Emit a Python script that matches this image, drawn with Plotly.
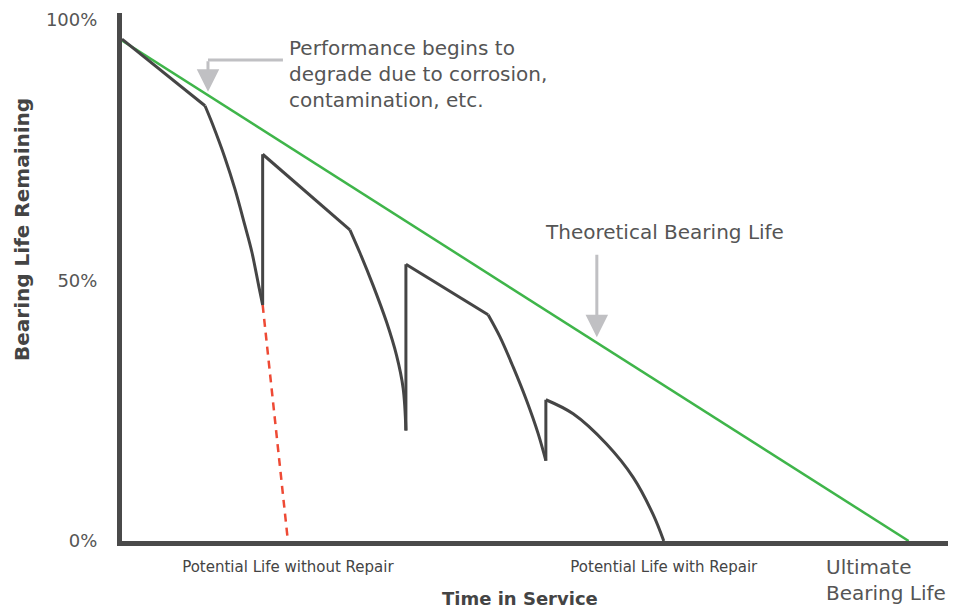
import plotly.graph_objects as go

# ---- data (time in service: 0..100 = ultimate bearing life; life remaining in %) ----
theory_x = [0, 100]
theory_y = [96, 0]

# actual bearing life path: straight wear segments, accelerated-degradation curves, repairs
seg1_x = [0, 10.55]
seg1_y = [96.3, 83.5]
curve1_x = [10.55, 11.5, 13.09, 14.36, 15.63, 16.5, 17.4, 17.88]
curve1_y = [83.5, 80.0, 73.5, 67.5, 60.5, 55.5, 48.8, 45.3]
repair1_x = [17.88, 17.88]
repair1_y = [45.3, 74.2]
seg2_x = [17.88, 28.97]
seg2_y = [74.2, 59.7]
curve2_x = [28.97, 30.24, 31.93, 33.63, 34.90, 35.74, 36.09]
curve2_y = [59.7, 55.3, 49.0, 42.0, 35.6, 29.3, 21.2]
repair2_x = [36.09, 36.09]
repair2_y = [21.2, 53.1]
seg3_x = [36.09, 46.54]
seg3_y = [53.1, 43.4]
curve3_x = [46.54, 48.03, 49.72, 51.42, 52.90, 53.88]
curve3_y = [43.4, 39.2, 33.4, 27.0, 20.6, 15.4]
repair3_x = [53.88, 53.88]
repair3_y = [15.4, 27.1]
curve4_x = [53.88, 57.35, 61.59, 64.98, 67.51, 68.87]
curve4_y = [27.1, 24.4, 18.6, 12.2, 5.1, 0]

no_repair_x = [17.88, 21.09]
no_repair_y = [45.3, 0]

y_tickvals = [0, 50, 100]
y_ticktext = ["0%", "50%", "100%"]
x_ticktext = ["Potential Life without Repair", "Potential Life with Repair"]

FONT = "DejaVu Sans"
TXT = "#555555"
DARK = "#454545"
GREEN = "#3fb54a"
ARROW = "#c0c0c3"

fig = go.Figure()

fig.add_trace(go.Scatter(x=theory_x, y=theory_y, mode="lines",
                         line=dict(color=GREEN, width=2.5), hoverinfo="skip"))

fig.add_trace(go.Scatter(x=no_repair_x, y=no_repair_y, mode="lines",
                         line=dict(color="#ee4a35", width=2.5, dash="8px,6px"), hoverinfo="skip"))

segments = [
    (seg1_x, seg1_y, "linear"), (curve1_x, curve1_y, "spline"), (repair1_x, repair1_y, "linear"),
    (seg2_x, seg2_y, "linear"), (curve2_x, curve2_y, "spline"), (repair2_x, repair2_y, "linear"),
    (seg3_x, seg3_y, "linear"), (curve3_x, curve3_y, "spline"), (repair3_x, repair3_y, "linear"),
    (curve4_x, curve4_y, "spline"),
]
for sx, sy, shp in segments:
    fig.add_trace(go.Scatter(x=sx, y=sy, mode="lines",
                             line=dict(color=DARK, width=3, shape=shp, smoothing=1.0),
                             hoverinfo="skip"))

# annotation: Performance begins to degrade (elbow arrow)
fig.add_shape(type="line", x0=10.93, x1=20.46, y0=92.3, y1=92.3,
              line=dict(color=ARROW, width=3))
fig.add_annotation(x=10.93, y=86.2, ax=0, ay=-32, showarrow=True, text="",
                   arrowhead=2, arrowsize=1.5, arrowwidth=3, arrowcolor=ARROW)
fig.add_annotation(x=21.0, y=89.6, xanchor="left", yanchor="middle", align="left",
                   showarrow=False,
                   text="Performance begins to<br>degrade due to corrosion,<br>contamination, etc.",
                   font=dict(family=FONT, size=20, color=TXT))

# annotation: Theoretical Bearing Life
fig.add_annotation(x=60.36, y=39.1, ax=0, ay=-84, showarrow=True, text="",
                   arrowhead=2, arrowsize=1.5, arrowwidth=3, arrowcolor=ARROW)
fig.add_annotation(x=69.0, y=59.2, showarrow=False, text="Theoretical Bearing Life",
                   font=dict(family=FONT, size=20, color=TXT))

# Ultimate bearing life label
fig.add_annotation(x=theory_x[-1], y=0, xref="x", yref="y", xanchor="left", yanchor="top",
                   xshift=-85, yshift=-12, align="left", showarrow=False,
                   text="Ultimate<br>Bearing Life",
                   font=dict(family=FONT, size=20, color=TXT))

# axis titles
fig.add_annotation(xref="paper", yref="paper", x=0, y=0.589, xshift=-114,
                   textangle=-90, showarrow=False,
                   text="<b>Bearing Life Remaining</b>",
                   font=dict(family=FONT, size=20, color="#444444"))
fig.add_annotation(xref="paper", yref="paper", x=0.482, y=-0.108, yanchor="middle",
                   showarrow=False, text="<b>Time in Service</b>",
                   font=dict(family=FONT, size=18, color="#444444"))

fig.update_layout(
    width=961, height=608,
    margin=dict(l=114, r=21, t=5, b=75, autoexpand=False),
    plot_bgcolor="white", paper_bgcolor="white",
    showlegend=False,
    xaxis=dict(range=[0, 105], showgrid=False, zeroline=False,
               showline=True, linecolor="#4a4a4a", linewidth=5,
               tickvals=[no_repair_x[-1], curve4_x[-1]], ticktext=x_ticktext,
               ticks="", tickfont=dict(family=FONT, size=15, color="#444444"),
               ticklabelstandoff=8),
    yaxis=dict(range=[0, 101.3], showgrid=False, zeroline=False,
               showline=True, linecolor="#4a4a4a", linewidth=5,
               tickvals=y_tickvals, ticktext=y_ticktext, ticks="",
               tickfont=dict(family=FONT, size=18, color=TXT),
               ticklabelstandoff=16),
)

fig.write_html("out.html")
